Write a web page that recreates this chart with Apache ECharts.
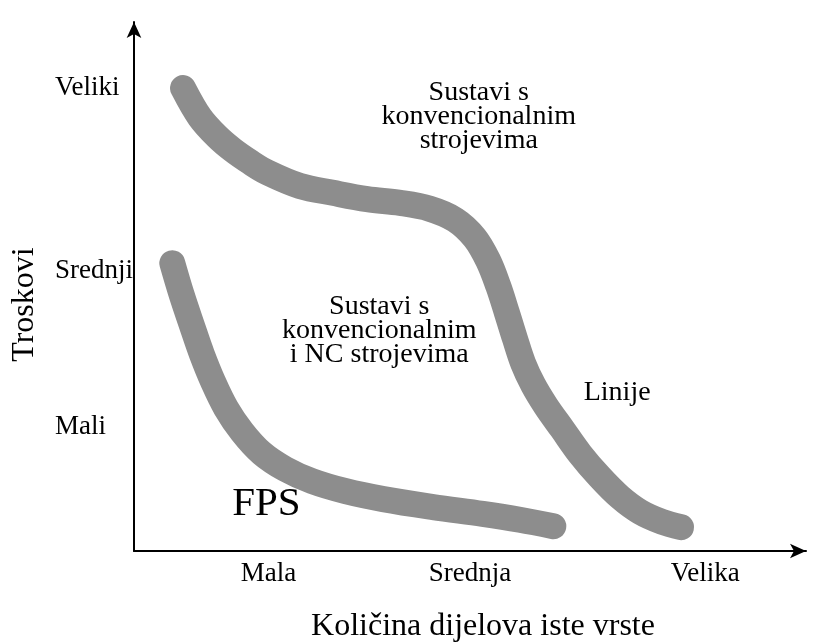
<!DOCTYPE html>
<html>
<head>
<meta charset="utf-8">
<title>Troskovi</title>
<script src="https://cdn.jsdelivr.net/npm/echarts@6/dist/echarts.min.js"></script>
<style>
	html, body { margin: 0; padding: 0; background: #fff; }
	#chart { width: 816px; height: 643px; }
</style>
</head>
<body>
<div id="chart"></div>
<script>
// podaci (proizvoljne jedinice 0-100)
var xTickValues = [20, 50, 85];
var xTickLabels = ['Mala', 'Srednja', 'Velika'];
var yTickValues = [87.6, 53, 23.4];
var yTickLabels = ['Veliki', 'Srednji', 'Mali'];

// krivulja: sustavi s konvencionalnim strojevima / linije
var upperX = [7.3, 9.8, 12.4, 14.7, 17.3, 19.8, 24.7, 29.6, 34.7, 39.6, 44.0, 47.8, 50.7, 52.7, 54.2, 55.5, 56.7, 57.9, 59.4, 61.3, 63.7, 66.4, 69.3, 72.3, 75.3, 78.6, 81.4];
var upperY = [87.5, 82.0, 78.3, 75.8, 73.5, 71.6, 69.0, 67.7, 66.5, 65.8, 64.7, 62.6, 59.2, 54.9, 50.1, 45.0, 40.1, 35.5, 31.4, 27.4, 23.1, 18.3, 14.0, 10.2, 7.4, 5.5, 4.5];

// krivulja: konvencionalni i NC strojevi / FPS
var lowerX = [5.7, 7.1, 8.6, 10.1, 11.8, 13.7, 16.1, 19.0, 22.5, 26.5, 31.5, 37.1, 44.5, 51.9, 57.4, 62.4];
var lowerY = [54.4, 48.4, 42.7, 37.2, 31.9, 27.0, 22.5, 18.5, 15.5, 13.2, 11.3, 9.8, 8.3, 7.0, 5.9, 4.7];

// natpisi u dijagramu
var noteText = ['Sustavi s\nkonvencionalnim\nstrojevima', 'Sustavi s\nkonvencionalnim\ni NC strojevima', 'Linije'];
var noteX = [51.3, 36.5, 71.9];
var noteY = [82.1, 41.7, 30.0];
var fpsText = 'FPS';
var fpsPos = [19.7, 8.9];

var FONT = '"Liberation Serif", "Times New Roman", serif';

function pairs(xs, ys) {
	var out = [];
	for (var i = 0; i < xs.length; i++) {
		out.push([xs[i], ys[i]]);
	}
	return out;
}

var notes = [];
for (var i = 0; i < noteText.length; i++) {
	notes.push({ name: noteText[i], value: [noteX[i], noteY[i]] });
}

var curveStyle = { width: 26, color: '#8d8d8d', cap: 'round', join: 'round' };

var chart = echarts.init(document.getElementById('chart'));
var option = {
	animation: false,
	backgroundColor: '#ffffff',
	// bez automatskog sazimanja grida zbog natpisa osi
	grid: { left: 134, right: 10, top: 22, bottom: 92, outerBoundsMode: 'none', containLabel: false },
	xAxis: {
		type: 'value',
		min: 0,
		max: 100,
		name: 'Količina dijelova iste vrste',
		nameLocation: 'middle',
		nameGap: 60,
		nameTextStyle: { fontFamily: FONT, fontSize: 32, color: '#000', padding: [0, 0, 0, 26] },
		axisLine: { show: true, symbol: ['none', 'arrow'], symbolSize: [11, 16], lineStyle: { color: '#000', width: 2 } },
		axisTick: { show: false },
		splitLine: { show: false },
		axisLabel: {
			customValues: xTickValues,
			margin: 9,
			fontFamily: FONT,
			fontSize: 27,
			color: '#000',
			formatter: function (v) {
				var k = xTickValues.indexOf(v);
				return k >= 0 ? xTickLabels[k] : '';
			}
		}
	},
	yAxis: {
		type: 'value',
		min: 0,
		max: 100,
		name: 'Troskovi',
		nameLocation: 'middle',
		nameGap: 93,
		nameTextStyle: { fontFamily: FONT, fontSize: 32, color: '#000', padding: [0, 36, 0, 0] },
		axisLine: { show: true, symbol: ['none', 'arrow'], symbolSize: [11, 16], lineStyle: { color: '#000', width: 2 } },
		axisTick: { show: false },
		splitLine: { show: false },
		axisLabel: {
			customValues: yTickValues,
			align: 'left',
			margin: 79,
			fontFamily: FONT,
			fontSize: 27,
			color: '#000',
			formatter: function (v) {
				var k = yTickValues.indexOf(v);
				return k >= 0 ? yTickLabels[k] : '';
			}
		}
	},
	series: [
		{
			type: 'line',
			data: pairs(upperX, upperY),
			smooth: 0.35,
			symbol: 'none',
			lineStyle: curveStyle,
			silent: true
		},
		{
			type: 'line',
			data: pairs(lowerX, lowerY),
			smooth: 0.35,
			symbol: 'none',
			lineStyle: curveStyle,
			silent: true
		},
		{
			type: 'scatter',
			data: notes,
			symbolSize: 0,
			itemStyle: { color: '#000', opacity: 1 },
			silent: true,
			label: {
				show: true,
				position: 'inside',
				formatter: '{b}',
				align: 'center',
				verticalAlign: 'middle',
				fontFamily: FONT,
				fontSize: 28,
				lineHeight: 24,
				color: '#000',
				opacity: 1
			}
		},
		{
			type: 'scatter',
			data: [{ name: fpsText, value: fpsPos }],
			symbolSize: 0,
			itemStyle: { color: '#000', opacity: 1 },
			silent: true,
			label: {
				show: true,
				position: 'inside',
				formatter: '{b}',
				fontFamily: FONT,
				fontSize: 41,
				color: '#000',
				opacity: 1
			}
		}
	]
};
chart.setOption(option);
</script>
</body>
</html>
